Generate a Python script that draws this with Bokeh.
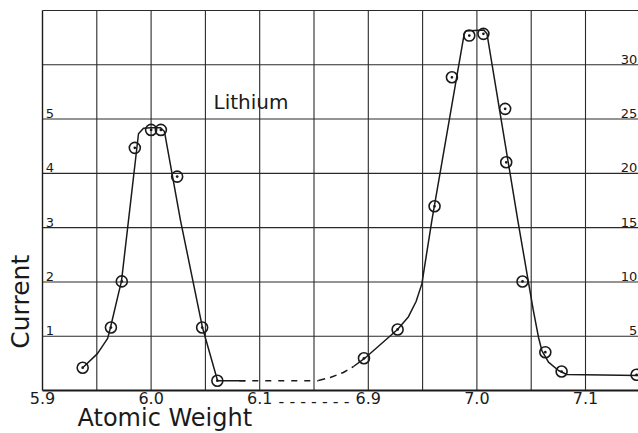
import numpy as np
from bokeh.plotting import figure
from bokeh.models import Range1d, Label
from bokeh.core.properties import value
from bokeh.embed import file_html
from bokeh.resources import INLINE

# ---- data ----
# Lithium 6 peak: atomic weight, current (left scale)
li6_weight = [5.937, 5.963, 5.973, 5.985, 6.000, 6.009, 6.024, 6.047, 6.061]
li6_current = [0.42, 1.16, 2.01, 4.47, 4.80, 4.80, 3.94, 1.16, 0.18]
# drawn curve through Li6 points
li6_curve_w = [5.937, 5.9506, 5.960, 5.9626, 5.970, 5.9727, 5.9884, 5.993, 5.9995,
               6.0087, 6.0123, 6.0271, 6.0473, 6.0612, 6.0869]
li6_curve_i = [0.42, 0.68, 0.96, 1.16, 1.79, 2.01, 4.73, 4.83, 4.84,
               4.84, 4.77, 3.13, 1.16, 0.18, 0.18]

# Lithium 7 peak: atomic weight, current (right scale)
li7_weight = [6.896, 6.927, 6.961, 6.977, 6.993, 7.006, 7.026, 7.027, 7.042, 7.063, 7.078, 7.147]
li7_current = [2.97, 5.62, 16.97, 28.85, 32.69, 32.85, 25.94, 21.02, 10.04, 3.53, 1.75, 1.45]
li7_curve_w = [6.8864, 6.8965, 6.9269, 6.9370, 6.9440, 6.9493, 6.9585, 6.9883, 6.9898,
               7.0063, 7.0093, 7.0377, 7.0475, 7.0520, 7.0567, 7.0598, 7.0659, 7.0751,
               7.0828, 7.1488]
li7_curve_i = [2.21, 2.95, 5.62, 6.80, 8.20, 9.82, 15.65, 32.85, 33.10,
               33.20, 32.85, 15.65, 9.97, 7.36, 4.91, 3.68, 2.61, 1.84,
               1.47, 1.38]
# solid then dashed link across the axis break (left scale) and dashed rise (right scale)
link_w = [6.0812, 6.854]
link_i = [0.18, 0.18]
rise_w = [6.854, 6.865, 6.877, 6.8864]
rise_i = [0.92, 1.20, 1.66, 2.21]

tick_weights = [5.9, 6.0, 6.1, 6.5, 6.9, 7.0, 7.1]
tick_labels = ["5.9", "6.0", "6.1", "- - - - - - -", "6.9", "7.0", "7.1"]
left_ticks = [1, 2, 3, 4, 5]
right_ticks = [5, 10, 15, 20, 25, 30]
grid_cells_x = list(range(1, 11))
grid_cells_y = list(range(1, 8))

# the frame covers the whole canvas: room for the hand lettering around the grid
X_MIN, X_MAX = -0.7735, 10.976
Y_MIN, Y_MAX = -0.792, 7.184
GRID_TOP = 7


def brk(w):
    """broken x axis: 5.9-6.15 then 6.85-7.15, 0.05 per grid cell; the break sits at 5"""
    w = np.asarray(w, dtype=float)
    u = np.where(w < 6.45, (w - 5.9) / 0.05, 6 + (w - 6.9) / 0.05)
    u = np.where(np.abs(w - 6.5) < 1e-9, 5.0, u)
    return np.round(u, 6)


p = figure(width=638, height=433, output_backend="svg", toolbar_location=None,
           x_range=Range1d(X_MIN, X_MAX), y_range=Range1d(Y_MIN, Y_MAX),
           x_axis_location=None, y_axis_location=None,
           min_border_left=0, min_border_right=0, min_border_top=0, min_border_bottom=0)
p.extra_y_ranges = {"right": Range1d(Y_MIN * 5, Y_MAX * 5)}
p.outline_line_color = None
p.background_fill_color = "white"
p.border_fill_color = "white"
p.xgrid.visible = False
p.ygrid.visible = False

INK = "#1a1a1a"
GRID = "#2a2a2a"

# grid cells
p.segment(x0=grid_cells_x, y0=[0] * len(grid_cells_x), x1=grid_cells_x, y1=[GRID_TOP] * len(grid_cells_x),
          line_color=GRID, line_width=1.1, level="underlay")
p.segment(x0=[0] * len(grid_cells_y), y0=grid_cells_y, x1=[X_MAX] * len(grid_cells_y), y1=grid_cells_y,
          line_color=GRID, line_width=1.1, level="underlay")
# axes lines
p.segment(x0=[0], y0=[0], x1=[0], y1=[GRID_TOP], line_color=INK, line_width=1.4)
p.segment(x0=[0], y0=[0], x1=[X_MAX], y1=[0], line_color=INK, line_width=1.8)

# x tick labels under the axis
p.text(x=brk(tick_weights), y=[-0.035] * len(tick_weights), text=tick_labels,
       text_font=value("DejaVu Sans"), text_font_size="16px", text_align="center",
       text_baseline="top", text_color=INK)

# curves
p.line(brk(li6_curve_w), li6_curve_i, line_color=INK, line_width=1.5)
p.line(brk(link_w), link_i, line_color=INK, line_width=1.5, line_dash="6 7")
p.line(brk(rise_w), rise_i, y_range_name="right", line_color=INK, line_width=1.5, line_dash="7 5")
p.line(brk(li7_curve_w), li7_curve_i, y_range_name="right", line_color=INK, line_width=1.5)

# points
p.scatter(brk(li6_weight), li6_current, marker="circle_dot", size=11,
          fill_color=None, line_color=INK, line_width=1.6)
p.scatter(brk(li7_weight), li7_current, y_range_name="right", marker="circle_dot", size=11,
          fill_color=None, line_color=INK, line_width=1.6)

# scale numbers inside the grid
p.text(x=[0.06] * len(left_ticks), y=[v + 0.02 for v in left_ticks], text=[str(v) for v in left_ticks],
       text_font=value("DejaVu Sans"), text_font_size="13px", text_align="left",
       text_baseline="bottom", text_color=INK)
p.text(x=[10.955] * len(right_ticks), y=[v + 0.1 for v in right_ticks], text=[str(v) for v in right_ticks],
       y_range_name="right", text_font=value("DejaVu Sans"), text_font_size="13px",
       text_align="right", text_baseline="bottom", text_color=INK)

p.add_layout(Label(x=3.15, y=5.307, text="Lithium", text_font="DejaVu Sans",
                   text_font_size="20px", text_color=INK, text_baseline="alphabetic"))
p.add_layout(Label(x=0.645, y=-0.4975, text="Atomic Weight", text_font="DejaVu Sans",
                   text_font_size="24px", text_color=INK, text_baseline="alphabetic"))
p.add_layout(Label(x=-0.41, y=0.77, text="Current", angle=np.pi / 2, text_font="DejaVu Sans",
                   text_font_size="25px", text_color=INK, text_baseline="alphabetic",
                   text_align="left"))

open("out.html", "w").write(file_html(p, INLINE))
